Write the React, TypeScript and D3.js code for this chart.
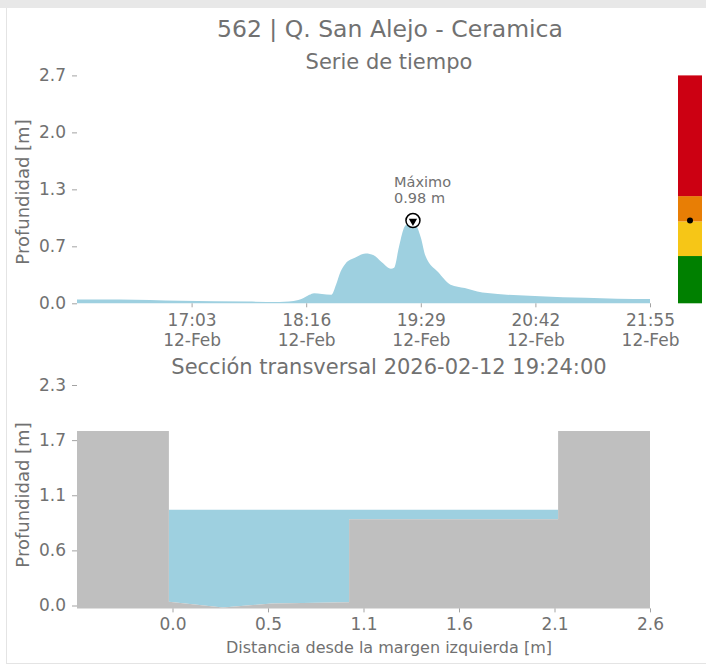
import React, { useEffect, useRef } from 'react';
import * as d3 from 'd3';

// --- time series (depth in m) ---
const seriesTimes = [
  '15:50', '16:17', '16:56', '17:39', '17:59', '18:05', '18:11', '18:14', '18:18', '18:21',
  '18:26', '18:32', '18:35', '18:38', '18:41', '18:47', '18:54', '18:59', '19:04', '19:10',
  '19:12', '19:15', '19:18', '19:21', '19:24', '19:26', '19:29', '19:32', '19:40', '19:48',
  '19:57', '20:05', '20:18', '20:45', '21:14', '21:34', '21:55',
];
const seriesDepth = [
  0.045, 0.045, 0.03, 0.02, 0.015, 0.02, 0.04, 0.06, 0.10, 0.12,
  0.11, 0.10, 0.22, 0.38, 0.47, 0.54, 0.59, 0.57, 0.49, 0.41,
  0.42, 0.66, 0.88, 0.95, 0.98, 0.93, 0.78, 0.56, 0.37, 0.22,
  0.18, 0.14, 0.11, 0.085, 0.065, 0.055, 0.05,
];
const timeTicks = ['17:03', '18:16', '19:29', '20:42', '21:55'];
const tickDay = '12-Feb';
const depthTicksTop = [0, 0.675, 1.35, 2.025, 2.7];
const depthLabelsTop = ['0.0', '0.7', '1.3', '2.0', '2.7'];
const peakTime = '19:24';
const peakDepth = 0.98;
const currentDepth = 0.98;

// alert levels for the side bar
const alertBreaks = [0, 0.56, 0.97, 1.27, 2.7];
const alertColors = ['#008000', '#f6c617', '#e87e05', '#cc0012'];

// --- cross section ---
const sectionX = [-0.53, -0.02, -0.02, 0.28, 0.55, 0.98, 0.98, 2.14, 2.14, 2.65];
const sectionZ = [1.82, 1.82, 0.04, -0.02, 0.02, 0.035, 0.9, 0.9, 1.82, 1.82];
const waterLevel = 1.0;
const distTicks = [0, 0.53, 1.06, 1.59, 2.12, 2.65];
const distLabels = ['0.0', '0.5', '1.1', '1.6', '2.1', '2.6'];
const depthTicksBottom = [0, 0.575, 1.15, 1.725, 2.3];
const depthLabelsBottom = ['0.0', '0.6', '1.1', '1.7', '2.3'];

const W = 706;
const H = 665;
const FONT = 'DejaVu Sans';
const TEXT = '#717171';
const TICK = '#a3a3a3';
const WATER = '#9ed0e0';
const GROUND = '#bfbfbf';

const App: React.FC = () => {
  const ref = useRef<SVGSVGElement | null>(null);

  useEffect(() => {
    if (!ref.current) return;
    const svg = d3.select(ref.current);
    svg.selectAll('*').remove();

    // card frame
    svg.append('rect').attr('width', W).attr('height', 8).attr('fill', '#e8e8e8');
    svg.append('line').attr('x1', 6.5).attr('x2', 6.5).attr('y1', 8).attr('y2', 663)
      .attr('stroke', '#e4e4e4');
    svg.append('line').attr('x1', 6).attr('x2', W).attr('y1', 663.5).attr('y2', 663.5)
      .attr('stroke', '#e4e4e4');

    const text = (x: number, y: number, s: string, size: number, anchor = 'middle') =>
      svg.append('text')
        .attr('x', x).attr('y', y)
        .attr('text-anchor', anchor)
        .attr('fill', TEXT)
        .style('font-family', FONT)
        .style('font-size', `${size}px`)
        .text(s);

    text(390, 37, '562 | Q. San Alejo - Ceramica', 23.5);
    text(389, 69, 'Serie de tiempo', 21);
    text(389, 374, 'Sección transversal 2026-02-12 19:24:00', 21);

    const styleAxis = (g: d3.Selection<SVGGElement, unknown, null, undefined>) => {
      g.attr('font-family', FONT).attr('font-size', 17);
      g.select('.domain').remove();
      g.selectAll('.tick line').attr('stroke', TICK);
      g.selectAll('.tick text').attr('fill', TEXT);
    };

    // ---------- time series ----------
    const parse = d3.timeParse('%H:%M');
    const times = seriesTimes.map((t) => parse(t) as Date);
    const x = d3.scaleTime()
      .domain([times[0], parse(timeTicks[timeTicks.length - 1]) as Date])
      .range([77, 650]);
    const y = d3.scaleLinear().domain([0, 2.7]).range([303.3, 75.4]);

    const area = d3.area<number>()
      .x((_, i) => x(times[i]))
      .y0(y(0))
      .y1((d) => y(d))
      .curve(d3.curveMonotoneX);
    svg.append('path').datum(seriesDepth).attr('d', area).attr('fill', WATER);

    const yAxisTop = svg.append('g').attr('transform', 'translate(77,0)')
      .call(d3.axisLeft(y).tickValues(depthTicksTop).tickSize(5).tickPadding(6)
        .tickFormat((_, i) => depthLabelsTop[i]));
    styleAxis(yAxisTop);

    const xAxisTop = svg.append('g').attr('transform', `translate(0,${y(0)})`)
      .call(d3.axisBottom(x).tickValues(timeTicks.map((t) => parse(t) as Date))
        .tickSize(4).tickPadding(7).tickFormat(() => ''));
    styleAxis(xAxisTop);
    xAxisTop.selectAll<SVGTextElement, Date>('.tick text').each(function (_, i) {
      const t = d3.select(this);
      t.append('tspan').attr('x', 0).text(timeTicks[i]);
      t.append('tspan').attr('x', 0).attr('dy', '1.16em').text(tickDay);
    });

    svg.append('text')
      .attr('transform', 'translate(29,192) rotate(-90)')
      .attr('text-anchor', 'middle')
      .attr('fill', TEXT)
      .style('font-family', FONT)
      .style('font-size', '18px')
      .text('Profundidad [m]');

    // peak marker
    const px = x(parse(peakTime) as Date);
    const py = y(peakDepth);
    svg.append('circle').attr('cx', px).attr('cy', py).attr('r', 7)
      .attr('fill', 'white').attr('stroke', 'black').attr('stroke-width', 1.5);
    svg.append('path')
      .attr('d', d3.symbol().type(d3.symbolTriangle).size(30)())
      .attr('transform', `translate(${px},${py + 0.5}) rotate(180)`)
      .attr('fill', 'black');
    text(394, 187, 'Máximo', 14.5, 'start');
    text(394, 203, `${peakDepth.toFixed(2)} m`, 14.5, 'start');

    // alert bar
    alertColors.forEach((c, i) => {
      svg.append('rect')
        .attr('x', 678).attr('width', 24)
        .attr('y', y(alertBreaks[i + 1]))
        .attr('height', y(alertBreaks[i]) - y(alertBreaks[i + 1]))
        .attr('fill', c);
    });
    svg.append('circle').attr('cx', 690).attr('cy', y(currentDepth)).attr('r', 3)
      .attr('fill', 'black');

    // ---------- cross section ----------
    const xs = d3.scaleLinear().domain([sectionX[0], sectionX[sectionX.length - 1]]).range([77, 650]);
    const ys = d3.scaleLinear().domain([0, 2.3]).range([605.5, 385]);
    const bottom = -0.03;

    const water = d3.area<number>()
      .x((_, i) => xs(sectionX[i]))
      .y0((d) => ys(d))
      .y1((d) => ys(Math.max(d, waterLevel)));
    svg.append('path').datum(sectionZ).attr('d', water).attr('fill', WATER);

    const ground = d3.area<number>()
      .x((_, i) => xs(sectionX[i]))
      .y0(ys(bottom))
      .y1((d) => ys(d));
    svg.append('path').datum(sectionZ).attr('d', ground).attr('fill', GROUND);

    const yAxisBot = svg.append('g').attr('transform', 'translate(77,0)')
      .call(d3.axisLeft(ys).tickValues(depthTicksBottom).tickSize(5).tickPadding(6)
        .tickFormat((_, i) => depthLabelsBottom[i]));
    styleAxis(yAxisBot);

    const xAxisBot = svg.append('g').attr('transform', `translate(0,${ys(bottom)})`)
      .call(d3.axisBottom(xs).tickValues(distTicks).tickSize(4).tickPadding(6)
        .tickFormat((_, i) => distLabels[i]));
    styleAxis(xAxisBot);

    svg.append('text')
      .attr('transform', 'translate(29,495) rotate(-90)')
      .attr('text-anchor', 'middle')
      .attr('fill', TEXT)
      .style('font-family', FONT)
      .style('font-size', '18px')
      .text('Profundidad [m]');
    text(389, 652.5, 'Distancia desde la margen izquierda [m]', 16);
  }, []);

  return (
    <svg
      ref={ref}
      width={W}
      height={H}
      style={{ position: 'absolute', top: 0, left: 0, background: 'white' }}
    />
  );
};

export default App;
